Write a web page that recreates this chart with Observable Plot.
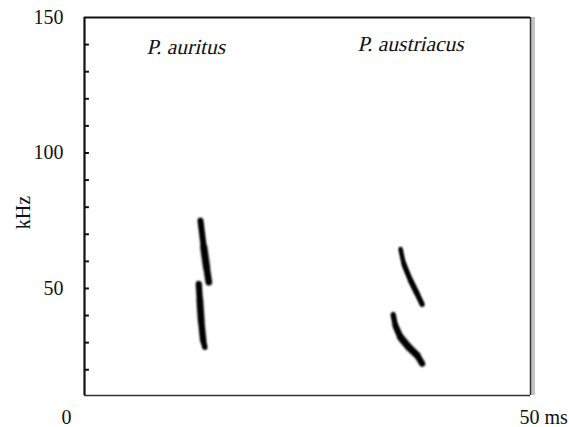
<!DOCTYPE html>
<html>
<head>
<meta charset="utf-8">
<script src="https://cdn.jsdelivr.net/npm/d3@7"></script>
<script src="https://cdn.jsdelivr.net/npm/@observablehq/plot@0.6"></script>
<style>
  html, body { margin: 0; padding: 0; background: #fff; }
  #chart svg { display: block; }
</style>
</head>
<body>
<div id="chart"></div>
<script>
// Tick labels and species names
const yTickLabels = [50, 100, 150];
const yMinorTicks = [20, 30, 40, 50, 60, 70, 80, 90, 100, 110, 120, 130, 140];
const speciesNames = ["P. auritus", "P. austriacus"];
const speciesLabelTime = [11.4, 36.6];   // ms
const speciesLabelFreq = [139, 140.2];   // kHz

// Call traces: [time (ms), frequency (kHz), relative energy 0..1]
const auritusFirst = [
  [13.0, 75.1, 0.5], [13.37, 65.2, 0.95], [13.68, 57.9, 1.0], [13.94, 52.3, 0.75]
];
const auritusSecond = [
  [12.81, 51.7, 0.65], [12.93, 45.6, 0.9], [13.08, 38.2, 0.9], [13.31, 30.8, 0.75], [13.49, 28.3, 0.5]
];
const austriacusFirst = [
  [35.43, 64.6, 0.25], [35.8, 59.1, 0.4], [36.55, 53.0, 0.65], [37.3, 48.0, 0.6], [37.86, 44.1, 0.5]
];
const austriacusSecond = [
  [34.6, 40.4, 0.5], [34.86, 36.3, 0.65], [35.43, 32.0, 0.9], [36.36, 28.3, 1.0], [37.3, 25.3, 0.9], [37.86, 22.2, 0.65]
];

const traces = [auritusFirst, auritusSecond, austriacusFirst, austriacusSecond];
const segments = [];
traces.forEach((tr, k) => {
  for (let i = 0; i < tr.length - 1; i++) {
    segments.push({
      trace: k,
      x1: tr[i][0], y1: tr[i][1], x2: tr[i + 1][0], y2: tr[i + 1][1],
      e: (tr[i][2] + tr[i + 1][2]) / 2
    });
  }
});
const points = traces.flatMap((tr, k) => tr.map(p => ({ trace: k, t: p[0], f: p[1], e: p[2] })));

const serif = "'Liberation Serif', 'Times New Roman', serif";

const chart = Plot.plot({
  width: 569,
  height: 427,
  marginLeft: 84,
  marginRight: 39,
  marginTop: 17,
  marginBottom: 32,
  x: { domain: [0, 50], axis: null },
  y: { domain: [10.5, 150], axis: null },
  style: { background: "#fff", fontFamily: serif },
  marks: [
    // call traces
    Plot.line(points, {
      x: "t", y: "f", z: "trace",
      stroke: "#000", strokeWidth: 3.5, strokeLinecap: "round", strokeLinejoin: "round", curve: "catmull-rom"
    }),
    Plot.link(segments, {
      x1: "x1", y1: "y1", x2: "x2", y2: "y2",
      stroke: "#000",
      strokeWidth: d => 1.2 + d.e * 6,
      strokeLinecap: "round"
    }),
    // frame
    Plot.ruleX([50], { stroke: "#c4c4c4", strokeWidth: 4, dx: 2.5 }),
    Plot.ruleX([50], { stroke: "#333", strokeWidth: 1.5 }),
    Plot.ruleY([150], { stroke: "#111", strokeWidth: 2 }),
    Plot.ruleY([10.5], { stroke: "#333", strokeWidth: 1.5 }),
    Plot.ruleX([0], { stroke: "#111", strokeWidth: 2.2 }),
    // inward minor ticks
    Plot.ruleY(yMinorTicks, { x1: 0, x2: 0.55, stroke: "#111", strokeWidth: 2 }),
    // y tick labels
    Plot.text(yTickLabels, {
      x: 0, y: d => d, text: d => String(d),
      textAnchor: "end", dx: -21, fontSize: 20, fill: "#111", fontFamily: serif
    }),
    // axis title
    Plot.text(["kHz"], {
      x: 0, y: 78, text: d => d, rotate: -90,
      dx: -61, fontSize: 20, fill: "#111", fontFamily: serif
    }),
    // x end labels
    Plot.text(["0"], {
      x: 0, y: 10.5, text: d => d, dx: -18, dy: 22, fontSize: 20, fill: "#111", fontFamily: serif
    }),
    Plot.text(["50 ms"], {
      x: 50, y: 10.5, text: d => d, textAnchor: "start", dx: -11, dy: 22, fontSize: 20, fill: "#111", fontFamily: serif
    }),
    // species labels
    Plot.text(speciesNames, {
      x: (d, i) => speciesLabelTime[i], y: (d, i) => speciesLabelFreq[i],
      text: d => d, fontSize: 21.5, fill: "#111", fontFamily: serif
    })
  ]
});

document.getElementById("chart").appendChild(chart);
chart.querySelectorAll('g[aria-label="link"], g[aria-label="line"]').forEach(g => g.style.filter = "blur(0.9px)");
// serif oblique for the species names: wrap each label in a skewed group centred on the label
const svgRect = chart.getBoundingClientRect();
chart.querySelectorAll("text").forEach(t => {
  if (!speciesNames.includes(t.textContent.trim())) return;
  const r = t.getBoundingClientRect();
  const cx = r.x - svgRect.x + r.width / 2;
  const cy = r.y - svgRect.y + r.height * 0.7;
  const g = document.createElementNS("http://www.w3.org/2000/svg", "g");
  g.setAttribute("transform", `translate(${cx},${cy}) skewX(-13) translate(${-cx},${-cy})`);
  t.parentNode.insertBefore(g, t);
  g.appendChild(t);
});
</script>
</body>
</html>
